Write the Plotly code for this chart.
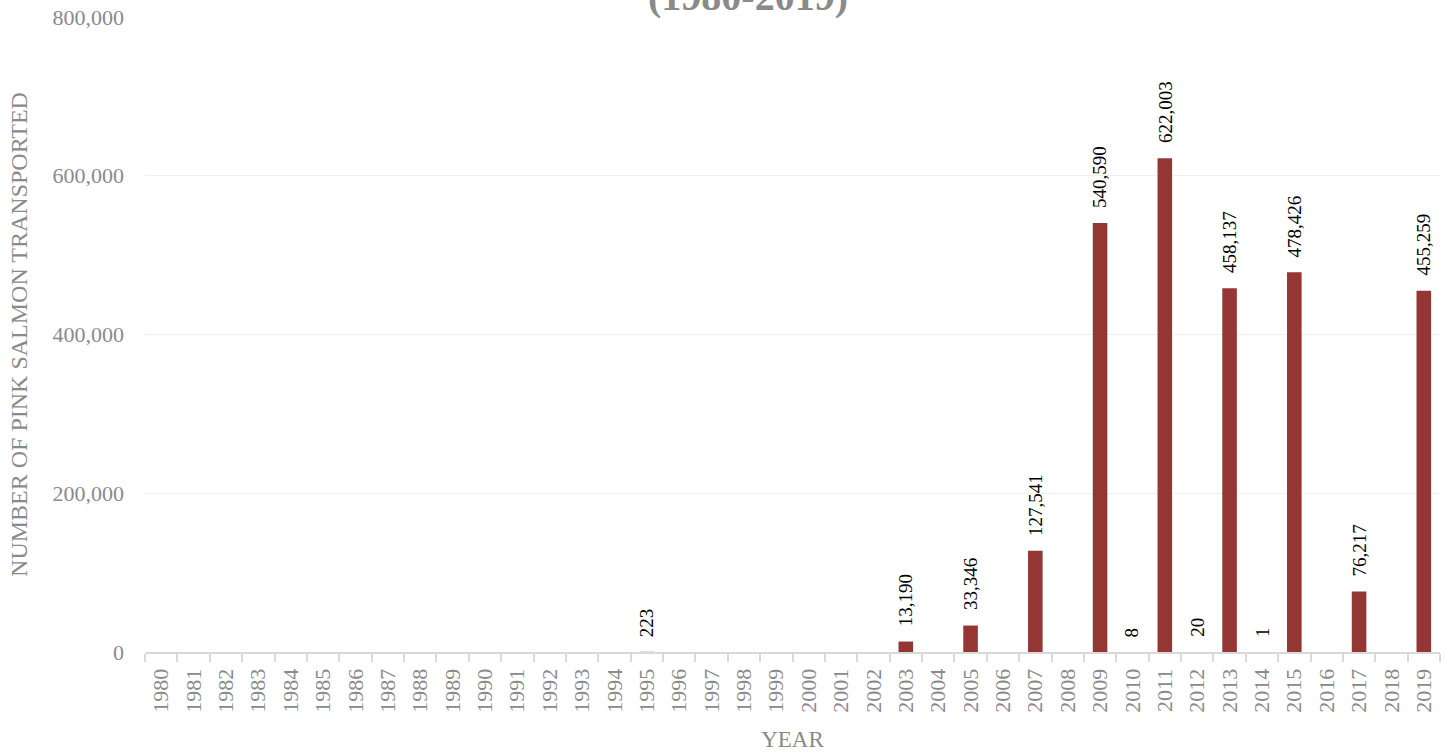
import plotly.graph_objects as go

years = [str(y) for y in range(1980, 2020)]
known = {
    "1995": 223, "2003": 13190, "2005": 33346, "2007": 127541,
    "2009": 540590, "2010": 8, "2011": 622003, "2012": 20,
    "2013": 458137, "2014": 1, "2015": 478426, "2017": 76217,
    "2019": 455259,
}
fish = [known.get(y) for y in years]

y_ticks = [0, 200000, 400000, 600000, 800000]
title_text = "<b>(1980-2019)</b>"
x_title = "YEAR"
y_title = "NUMBER OF PINK SALMON TRANSPORTED"

FONT = "Liberation Serif"
GRAY = "#8a8a8a"

fig = go.Figure()
fig.add_trace(go.Bar(
    x=years, y=fish, cliponaxis=False,
    marker=dict(color="rgba(148,54,52,0.999)", line=dict(width=0)),
))

for i, v in enumerate(fish):
    if v is None:
        continue
    fig.add_annotation(
        x=i, y=v, xref="x", yref="y", text=f"{v:,}", showarrow=False,
        textangle=-90, xanchor="center", yanchor="bottom", yshift=13,
        font=dict(family=FONT, size=19, color="#000000"),
    )

n = len(years)
boundaries = [i - 0.5 for i in range(n + 1)]

fig.update_layout(
    width=1445, height=752,
    margin=dict(l=145, r=5, t=17, b=100, autoexpand=False),
    paper_bgcolor="white", plot_bgcolor="white",
    bargap=0.55, showlegend=False,
    font=dict(family=FONT, size=22, color=GRAY),
    xaxis2=dict(
        overlaying="x", anchor="y", side="bottom", range=[-0.5, n - 0.5],
        tickvals=boundaries, ticks="inside", ticklen=7, tickwidth=2,
        tickcolor="#d9d9d9", showticklabels=False, showgrid=False,
        showline=False, zeroline=False, automargin=False,
    ),
)
fig.layout.xaxis.update(
    type="category", categoryarray=years, range=[-0.5, n - 0.5],
    tickson="boundaries", ticks="outside", ticklen=8, tickwidth=2,
    tickcolor="#d9d9d9", showline=True, linecolor="#d9d9d9", linewidth=2,
    tickangle=-90, tickfont=dict(family=FONT, size=22, color=GRAY),
    ticklabelstandoff=6,
    showgrid=False, automargin=False,
    title=dict(text=x_title, font=dict(family=FONT, size=23, color=GRAY), standoff=24),
)
fig.update_yaxes(
    range=[0, 800000], tickvals=y_ticks, tickformat=",",
    showgrid=True, gridcolor="#eeeeee", gridwidth=1, zeroline=False,
    showline=False, ticklabelstandoff=20, automargin=False,
    tickfont=dict(family=FONT, size=22, color=GRAY),
    title=dict(text=y_title, font=dict(family=FONT, size=24, color=GRAY), standoff=18),
)
fig.add_annotation(
    text=title_text, xref="paper", yref="paper", x=0.466, y=1,
    xanchor="center", yanchor="bottom", yshift=-9, showarrow=False,
    width=1118, bgcolor="white", borderpad=6,
    font=dict(family=FONT, size=40, color=GRAY),
)

fig.write_html(
    "out.html",
    config={"displayModeBar": False},
    post_script="document.body.style.margin='0px';document.body.style.padding='0px';",
)
